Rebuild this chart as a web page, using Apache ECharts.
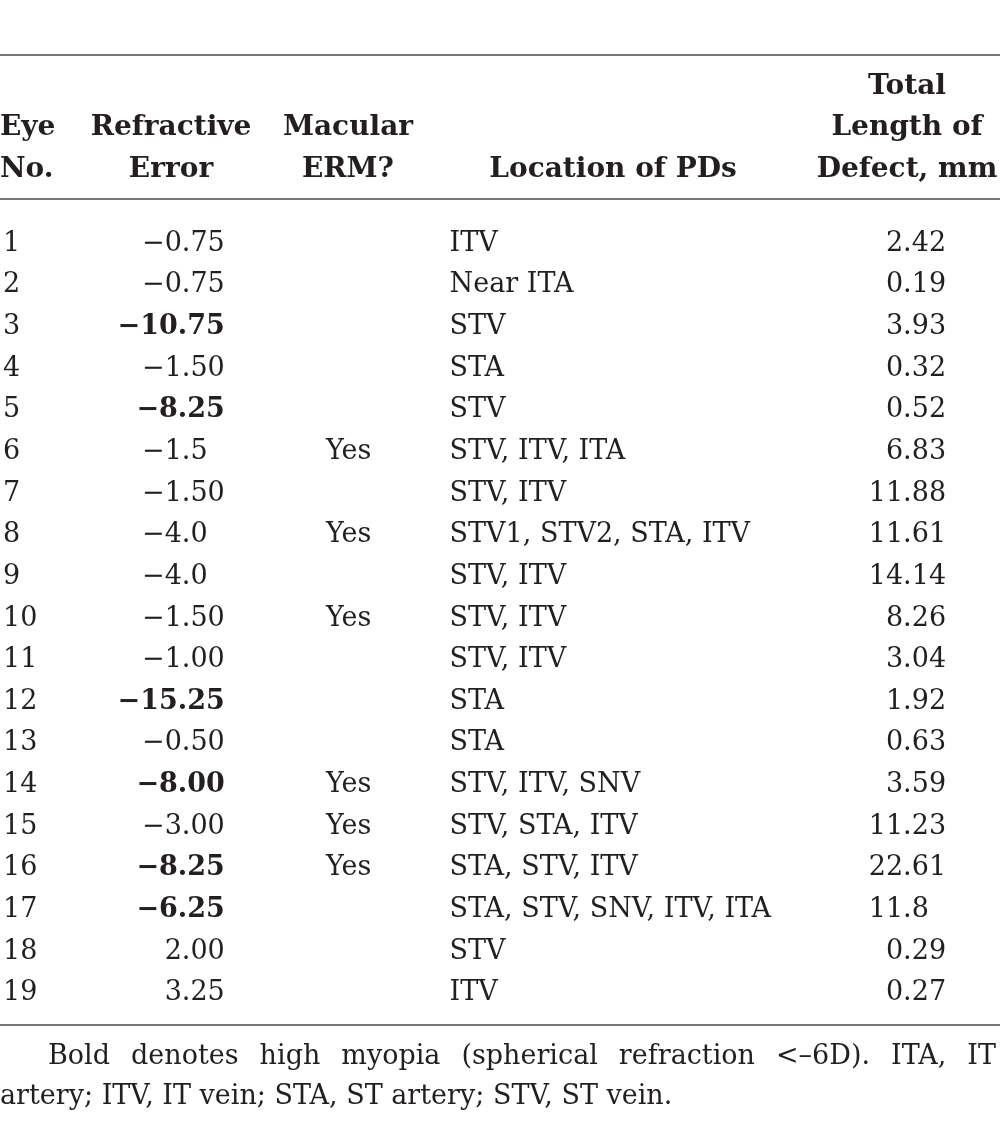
<!DOCTYPE html>
<html>
<head>
<meta charset="utf-8">
<script src="https://cdn.jsdelivr.net/npm/echarts@6/dist/echarts.min.js"></script>
<style>
html,body{margin:0;padding:0;background:#fff;}
#main{width:1000px;height:1121px;}
</style>
</head>
<body>
<div id="main"></div>
<script>
// ---- Data ----
var eyeNo = ["1","2","3","4","5","6","7","8","9","10","11","12","13","14","15","16","17","18","19"];
var refractiveError = ["−0.75","−0.75","−10.75","−1.50","−8.25","−1.5","−1.50","−4.0","−4.0","−1.50","−1.00","−15.25","−0.50","−8.00","−3.00","−8.25","−6.25","2.00","3.25"];
var macularERM = ["","","","","","Yes","","Yes","","Yes","","","","Yes","Yes","Yes","","",""];
var locationPDs = ["ITV","Near ITA","STV","STA","STV","STV, ITV, ITA","STV, ITV","STV1, STV2, STA, ITV","STV, ITV","STV, ITV","STV, ITV","STA","STA","STV, ITV, SNV","STV, STA, ITV","STA, STV, ITV","STA, STV, SNV, ITV, ITA","STV","ITV"];
var defectLength = ["2.42","0.19","3.93","0.32","0.52","6.83","11.88","11.61","14.14","8.26","3.04","1.92","0.63","3.59","11.23","22.61","11.8","0.29","0.27"];
var headers = [
  ["Eye", "No."],
  ["Refractive", "Error"],
  ["Macular", "ERM?"],
  ["Location of PDs"],
  ["Total", "Length of", "Defect, mm"]
];
var footnote = [
  "Bold denotes high myopia (spherical refraction <–6D). ITA, IT",
  "artery; ITV, IT vein; STA, ST artery; STV, ST vein."
];

// ---- Layout / style ----
var FONT = "DejaVu Serif";
var INK = "#231f20";
var BODY = 27;
var HEAD = 28;
var NOTE = 27;
var colAnchor = { refr: 224, erm: 348, loc: 449, len: 946 };
var headAnchor = [[0,'left'],[171,'center'],[348,'center'],[613,'center'],[907,'center']];
var headLineY = [87, 128, 170];

function toNum(s){ return parseFloat(s.replace('−','-')); }
function padDecimals(s, target){
  var d = s.indexOf('.') < 0 ? 0 : s.length - s.indexOf('.') - 1;
  var pad = '';
  for (var i = d; i < target; i++) pad += '0';
  return pad ? '{g|' + pad + '}' : '';
}

function textSeries(name, anchor, texts, align, fmt){
  var data = texts.map(function(t, i){ return [anchor, i, t]; });
  return {
    type: 'custom', name: name, data: data, silent: true,
    renderItem: function(params, api){
      var idx = params.dataIndex;
      var p = api.coord([api.value(0), idx]);
      var raw = texts[idx];
      var txt = fmt ? fmt(raw) : raw;
      return {
        type: 'text', x: p[0], y: p[1],
        style: {
          text: txt, fill: INK, font: BODY + 'px "' + FONT + '"',
          align: align, verticalAlign: 'middle',
          rich: {
            b: { fontFamily: FONT, fontSize: BODY, fontWeight: 'bold', fill: INK, color: INK },
            n: { fontFamily: FONT, fontSize: BODY, fill: INK, color: INK },
            g: { fontFamily: FONT, fontSize: BODY, fill: 'rgba(0,0,0,0)', color: 'rgba(0,0,0,0)' },
            gb: { fontFamily: FONT, fontSize: BODY, fontWeight: 'bold', fill: 'rgba(0,0,0,0)', color: 'rgba(0,0,0,0)' }
          }
        }
      };
    }
  };
}

var graphics = [];
[55, 199, 1025].forEach(function(y){
  graphics.push({ type: 'line', shape: { x1: 0, y1: y, x2: 1000, y2: y }, style: { stroke: '#4a4a4a', lineWidth: 1.5 }, silent: true });
});
headers.forEach(function(lines, c){
  var off = headLineY.length - lines.length;
  lines.forEach(function(t, k){
    graphics.push({
      type: 'text', x: headAnchor[c][0], y: headLineY[off + k],
      style: { text: t, font: 'bold ' + HEAD + 'px "' + FONT + '"', fill: INK, align: headAnchor[c][1], verticalAlign: 'middle' },
      silent: true
    });
  });
});

// footnote: first line justified between x=48 and x=996
var noteFont = NOTE + 'px "' + FONT + '"';
var ctx = document.createElement('canvas').getContext('2d');
ctx.font = noteFont;
var words = footnote[0].split(' ');
var widths = words.map(function(w){ return ctx.measureText(w).width; });
var total = widths.reduce(function(a, b){ return a + b; }, 0);
var gap = (996 - 48 - total) / (words.length - 1);
var xCur = 48;
words.forEach(function(w, i){
  graphics.push({ type: 'text', x: xCur, y: 1057, style: { text: w, font: noteFont, fill: INK, align: 'left', verticalAlign: 'middle' }, silent: true });
  xCur += widths[i] + gap;
});
graphics.push({ type: 'text', x: 0, y: 1097, style: { text: footnote[1], font: noteFont, fill: INK, align: 'left', verticalAlign: 'middle' }, silent: true });

var chart = echarts.init(document.getElementById('main'), null, { renderer: 'canvas' });
chart.setOption({
  animation: false,
  backgroundColor: '#fff',
  grid: { left: 0, right: 0, top: 223, height: 791 },
  xAxis: { type: 'value', min: 0, max: 1000, show: false },
  yAxis: {
    type: 'category', data: eyeNo, inverse: true,
    axisLine: { show: false }, axisTick: { show: false }, splitLine: { show: false },
    axisLabel: { inside: true, align: 'left', margin: 2, fontFamily: FONT, fontSize: BODY, color: INK }
  },
  graphic: graphics,
  series: [
    textSeries('Refractive Error', colAnchor.refr, refractiveError, 'right', function(s){
      var bold = toNum(s) < -6;
      var pad = padDecimals(s, 2);
      if (bold) return '{b|' + s + '}' + pad.replace('{g|', '{gb|');
      return '{n|' + s + '}' + pad;
    }),
    textSeries('Macular ERM?', colAnchor.erm, macularERM, 'center'),
    textSeries('Location of PDs', colAnchor.loc, locationPDs, 'left'),
    textSeries('Total Length of Defect, mm', colAnchor.len, defectLength, 'right', function(s){
      return '{n|' + s + '}' + padDecimals(s, 2);
    })
  ]
});
</script>
</body>
</html>
